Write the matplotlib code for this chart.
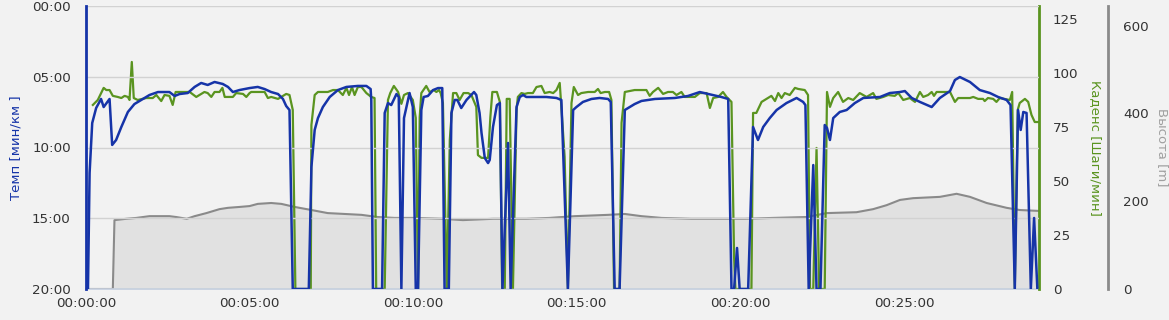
import matplotlib
matplotlib.use("Agg")
import matplotlib.pyplot as plt
from matplotlib.ticker import FuncFormatter, FixedLocator

# ---- data (time in minutes) ----
pace_t = [0.00, 0.06, 0.11, 0.19, 0.31, 0.46, 0.54, 0.72, 0.80, 0.92, 1.08, 1.28, 1.48, 1.74, 1.94,
          2.20, 2.55, 2.71, 2.86, 3.11, 3.32, 3.52, 3.72, 3.93, 4.18, 4.34, 4.49, 4.69, 5.00, 5.25,
          5.46, 5.66, 5.87, 6.02, 6.12, 6.22, 6.32, 6.81, 6.89, 6.99, 7.09, 7.24, 7.45, 7.70, 7.96,
          8.31, 8.57, 8.70, 8.72, 8.77, 9.05, 9.13, 9.23, 9.33, 9.49, 9.56, 9.64, 9.72, 9.81, 9.89,
          9.99, 10.08, 10.15, 10.25, 10.32, 10.45, 10.61, 10.76, 10.89, 10.96, 11.09, 11.17, 11.27,
          11.35, 11.47, 11.63, 11.86, 11.93, 12.03, 12.09, 12.19, 12.29, 12.34, 12.44, 12.56, 12.65,
          12.73, 12.90, 12.98, 13.16, 13.26, 13.36, 13.46, 13.66, 14.07, 14.38, 14.53, 14.73, 14.89,
          14.99, 15.19, 15.45, 15.70, 15.96, 16.04, 16.16, 16.31, 16.47, 16.57, 16.77, 16.98, 17.39,
          18.00, 18.40, 18.76, 19.02, 19.42, 19.63, 19.73, 19.81, 19.90, 19.98, 20.24, 20.39, 20.54,
          20.70, 20.90, 21.11, 21.41, 21.72, 21.92, 21.99, 22.09, 22.23, 22.33, 22.45, 22.58, 22.65,
          22.74, 22.84, 23.04, 23.25, 23.50, 23.76, 24.27, 24.57, 24.88, 25.03, 25.24, 25.49, 25.85,
          26.10, 26.41, 26.56, 26.71, 27.02, 27.32, 27.63, 27.88, 28.14, 28.26, 28.39, 28.49, 28.57,
          28.65, 28.75, 28.88, 28.98, 29.08]
pace_v = [20.0, 20.0, 11.8, 8.27, 7.21, 6.57, 7.14, 6.57, 9.82, 9.47, 8.55, 7.49, 6.93, 6.57, 6.29,
          6.08, 6.08, 6.36, 6.22, 6.15, 5.72, 5.44, 5.58, 5.37, 5.51, 5.72, 6.08, 5.94, 5.80, 5.72,
          5.87, 6.08, 6.22, 6.57, 7.07, 7.35, 20.0, 20.0, 11.38, 8.76, 7.92, 7.14, 6.43, 5.94, 5.72,
          5.65, 5.65, 5.87, 6.64, 20.0, 20.0, 7.56, 6.86, 7.00, 6.22, 6.43, 20.0, 7.92, 7.00, 6.15,
          7.14, 20.0, 20.0, 7.35, 6.43, 6.36, 5.94, 5.80, 5.80, 20.0, 20.0, 7.56, 6.64,
          6.64, 7.21, 6.64, 6.08, 6.29, 7.56, 8.98, 10.74, 11.10, 10.88, 8.55, 7.00, 6.86,
          20.0, 9.68, 20.0, 7.14, 6.43, 6.29, 6.43, 6.43, 6.43, 6.50, 6.64, 20.0, 7.35,
          7.14, 6.78, 6.57, 6.50, 6.57, 6.78, 20.0, 20.0, 7.35, 7.21, 6.93, 6.71, 6.57,
          6.50, 6.36, 6.08, 6.22, 6.43, 6.57, 20.0, 20.0, 17.10, 20.0, 20.0, 8.55, 9.47,
          8.55, 7.92, 7.35, 6.86, 6.50, 6.78, 7.00, 20.0, 11.24, 20.0, 20.0, 8.41, 8.62,
          9.47, 7.92, 7.49, 7.35, 6.86, 6.50, 6.43, 6.15, 6.08, 6.01, 6.50, 6.78, 7.14,
          6.50, 6.01, 5.23, 5.02, 5.37, 5.94, 6.15, 6.43, 6.64, 7.00, 20.0, 7.35, 8.76,
          7.49, 7.56, 20.0, 14.98, 20.0]

cad_t = [0.21, 0.36, 0.54, 0.62, 0.72, 0.82, 0.97, 1.08, 1.18, 1.28, 1.33, 1.40, 1.46, 1.58, 1.84,
         2.04, 2.15, 2.30, 2.40, 2.55, 2.65, 2.74, 3.17, 3.37, 3.62, 3.72, 3.83, 3.93, 4.08, 4.17,
         4.24, 4.49, 4.59, 4.80, 4.90, 5.00, 5.05, 5.46, 5.56, 5.66, 5.87, 5.97, 6.12, 6.22, 6.32,
         6.40, 6.87, 6.89, 6.99, 7.09, 7.39, 7.55, 7.70, 7.85, 7.96, 8.04, 8.13, 8.21, 8.31, 8.42,
         8.57, 8.72, 8.82, 8.87, 9.13, 9.23, 9.30, 9.41, 9.54, 9.64, 9.72, 9.84, 9.99, 10.08, 10.15,
         10.20, 10.25, 10.40, 10.50, 10.63, 10.71, 10.79, 10.84, 10.91, 11.03, 11.12, 11.22, 11.32,
         11.42, 11.54, 11.68, 11.78, 11.93, 11.98, 12.09, 12.29, 12.36, 12.42, 12.56, 12.65, 12.72,
         12.80, 12.86, 12.95, 13.05, 13.16, 13.20, 13.31, 13.41, 13.51, 13.66, 13.77, 13.92, 14.02, 14.17,
         14.28, 14.38, 14.48, 14.53, 14.63, 14.73, 14.84, 14.91, 15.04, 15.14, 15.35, 15.55, 15.65,
         15.73, 15.86, 15.99, 16.06, 16.14, 16.31, 16.37, 16.47, 16.77, 17.13, 17.23, 17.33, 17.49,
         17.64, 17.79, 17.94, 18.05, 18.20, 18.30, 18.61, 18.76, 18.97, 19.07, 19.17, 19.32, 19.47,
         19.58, 19.73, 19.81, 19.85, 20.34, 20.39, 20.49, 20.65, 20.80, 20.95, 21.06, 21.16, 21.26,
         21.36, 21.51, 21.67, 21.77, 21.97, 22.07, 22.13, 22.23, 22.33, 22.41, 22.58, 22.65, 22.74,
         22.84, 22.99, 23.14, 23.30, 23.45, 23.65, 23.86, 24.06, 24.16, 24.37, 24.52, 24.72, 24.83,
         24.98, 25.18, 25.34, 25.49, 25.59, 25.74, 25.85, 25.92, 26.00, 26.41, 26.56, 26.66, 27.02,
         27.12, 27.27, 27.42, 27.47, 27.57, 27.73, 27.83, 27.93, 28.24, 28.31, 28.39, 28.48, 28.54,
         28.70, 28.80, 28.90, 29.00, 29.10]
cad_v = [85.2, 87.5, 93.1, 92.1, 92.1, 89.4, 88.9, 88.4, 89.4, 88.9, 87.5, 105.1, 88.4, 87.5, 88.4,
         88.4, 89.8, 87.0, 89.8, 89.4, 85.2, 91.2, 91.2, 88.9, 91.2, 90.7, 88.9, 91.2, 91.2, 93.1,
         88.9, 88.9, 90.7, 90.3, 88.9, 90.7, 91.2, 91.2, 88.4, 88.9, 88.0, 88.9, 90.3, 89.8, 82.9,
         0.0, 0.0, 75.9, 89.8, 91.2, 91.2, 92.1, 92.1, 89.8, 93.1, 89.8, 93.5, 89.8, 93.5, 93.5,
         90.7, 88.9, 88.4, 0.0, 0.0, 87.5, 90.7, 94.0, 91.2, 85.7, 89.8, 90.7, 87.5, 79.2, 0.0,
         79.6, 90.7, 94.0, 91.2, 92.1, 91.2, 92.1, 90.7, 86.1, 0.0, 69.0, 90.7, 90.7,
         87.5, 90.7, 90.7, 89.8, 84.3, 62.0, 60.7, 60.7, 79.6, 91.2, 91.2, 86.6, 0.0,
         0.0, 88.0, 88.0, 0.0, 82.9, 88.9, 90.7, 90.3, 90.7, 90.7, 93.5, 94.0, 90.7, 91.2,
         90.7, 92.1, 95.4, 84.3, 61.1, 0.0, 86.1, 93.5, 89.8, 90.7, 91.2, 91.2, 92.6,
         90.7, 91.2, 91.2, 87.5, 0.0, 0.0, 76.9, 91.2, 92.1, 92.1, 89.4, 91.2, 93.1,
         90.3, 91.2, 91.2, 89.8, 91.2, 88.9, 88.9, 90.7, 90.7, 83.8, 88.4, 88.9, 91.2,
         88.9, 86.6, 14.8, 0.0, 0.0, 81.5, 81.5, 86.6, 88.0, 89.4, 87.0, 90.7, 88.4,
         90.7, 89.8, 93.1, 92.6, 92.1, 89.8, 0.0, 0.0, 65.3, 0.0, 0.0, 91.2, 84.3,
         88.4, 91.2, 86.6, 88.4, 87.5, 90.7, 88.9, 90.7, 88.0, 88.9, 89.8, 89.4, 90.7,
         87.5, 88.4, 86.6, 91.2, 88.9, 89.8, 91.2, 89.4, 91.2, 91.2, 86.6, 88.4, 88.4,
         88.9, 88.0, 88.0, 87.0, 88.4, 88.0, 86.6, 88.4, 87.5, 91.2, 0.0, 82.9, 86.1,
         88.0, 86.6, 80.6, 77.3, 77.3]

alt_t = [0.00, 0.82, 0.87, 1.23, 1.54, 1.94, 2.55, 2.76, 3.08, 3.32, 3.68, 4.08, 4.34, 4.69, 5.00,
         5.25, 5.66, 5.97, 6.38, 6.89, 7.39, 7.91, 8.42, 8.92, 9.43, 10.05, 10.91, 11.52, 12.44,
         13.46, 14.17, 14.94, 15.96, 16.47, 16.98, 17.59, 18.51, 19.53, 20.14, 21.00, 22.02, 22.64,
         23.55, 24.06, 24.47, 24.88, 25.28, 26.10, 26.61, 27.02, 27.53, 28.14, 28.54, 29.11]
alt_v = [0, 0, 157, 160, 162, 166, 166, 164, 160, 166, 173, 182, 185, 187, 189,
         194, 196, 194, 187, 180, 173, 171, 169, 164, 162, 162, 160, 157, 160,
         160, 162, 166, 169, 171, 166, 162, 160, 160, 160, 162, 164, 173,
         175, 182, 191, 203, 207, 210, 217, 210, 196, 185, 180, 178]

pace_ticks = [0, 5, 10, 15, 20]
cad_ticks = [0, 25, 50, 75, 100, 125]
alt_ticks = [0, 200, 400, 600]
time_ticks = [0, 5, 10, 15, 20, 25]

BG = "#f2f2f2"
BLUE = "#1634a8"
GREEN = "#5a9420"
GRAY = "#8a8a8a"
TXT = "#333333"

plt.rcParams['font.family'] = ['DejaVu Sans']
fig = plt.figure(figsize=(11.69, 3.2), dpi=100, facecolor=BG)
ax_alt = fig.add_axes([86/1169, 31/320, 953/1169, 283/320], facecolor=BG)
ax_cad = ax_alt.twinx()
ax_pace = ax_alt.twinx()

# altitude (base)
ax_alt.fill_between(alt_t, alt_v, 0, color="#e1e1e1", lw=0, zorder=1)
ax_alt.plot(alt_t, alt_v, color=GRAY, lw=1.5, zorder=2)
ax_alt.set_ylim(0, 645)
ax_alt.set_xlim(0, 29.13)

for v in pace_ticks:
    ax_pace.axhline(v, color="#d2d2d2", lw=1.0, zorder=0)

ax_cad.plot(cad_t, cad_v, color=GREEN, lw=1.6, zorder=3)
ax_cad.set_ylim(0, 131)

ax_pace.plot(pace_t, pace_v, color=BLUE, lw=1.8, zorder=4)
ax_pace.set_ylim(20, 0)

# x axis
ax_alt.xaxis.set_major_locator(FixedLocator(time_ticks))
ax_alt.xaxis.set_major_formatter(FuncFormatter(lambda v, p: f"00:{int(round(v)):02d}:00"))
ax_alt.tick_params(axis='x', length=0, pad=6, labelsize=9.7, labelcolor=TXT)

# altitude y axis (outer right)
ax_alt.yaxis.tick_right()
ax_alt.yaxis.set_label_position('right')
ax_alt.set_yticks(alt_ticks)
ax_alt.tick_params(axis='y', length=0, pad=11, labelsize=9.7, labelcolor=TXT)
for s in ['left', 'top']:
    ax_alt.spines[s].set_visible(False)
ax_alt.spines['bottom'].set_color("#c4cfe0")
ax_alt.spines['bottom'].set_linewidth(1.2)
ax_alt.spines['right'].set_position(('outward', 49.7))
ax_alt.spines['right'].set_color(GRAY)
ax_alt.spines['right'].set_linewidth(2)
ax_alt.set_ylabel("Высота [m]", color="#a0a0a0", fontsize=9.5, rotation=-90, va='center', ha='center')
ax_alt.yaxis.set_label_coords(1.130, 0.5)

# cadence axis
ax_cad.set_yticks(cad_ticks)
ax_cad.tick_params(axis='y', length=0, pad=10, labelsize=9.7, labelcolor=TXT)
for s in ['left', 'top', 'bottom']:
    ax_cad.spines[s].set_visible(False)
ax_cad.spines['right'].set_color(GREEN)
ax_cad.spines['right'].set_linewidth(2)
ax_cad.set_ylabel("Каденс [Шаги/мин]", color=GREEN, fontsize=9.5, rotation=-90, va='center', ha='center')
ax_cad.yaxis.set_label_coords(1.0588, 0.5)

# pace axis (left)
ax_pace.yaxis.tick_left()
ax_pace.yaxis.set_label_position('left')
ax_pace.set_yticks(pace_ticks)
ax_pace.yaxis.set_major_formatter(FuncFormatter(lambda v, p: f"{int(round(v)):02d}:00"))
ax_pace.tick_params(axis='y', length=0, pad=11, labelsize=9.7, labelcolor=TXT)
for s in ['right', 'top', 'bottom']:
    ax_pace.spines[s].set_visible(False)
ax_pace.spines['left'].set_visible(True)
ax_pace.spines['left'].set_color(BLUE)
ax_pace.spines['left'].set_linewidth(2)
ax_pace.set_ylabel("Темп [мин/км ]", color=BLUE, fontsize=9.5, va='center', ha='center')
ax_pace.yaxis.set_label_coords(-0.0735, 0.5)
ax_pace.patch.set_visible(False)
ax_cad.patch.set_visible(False)

fig.savefig("out.png", dpi=100, facecolor=BG)
